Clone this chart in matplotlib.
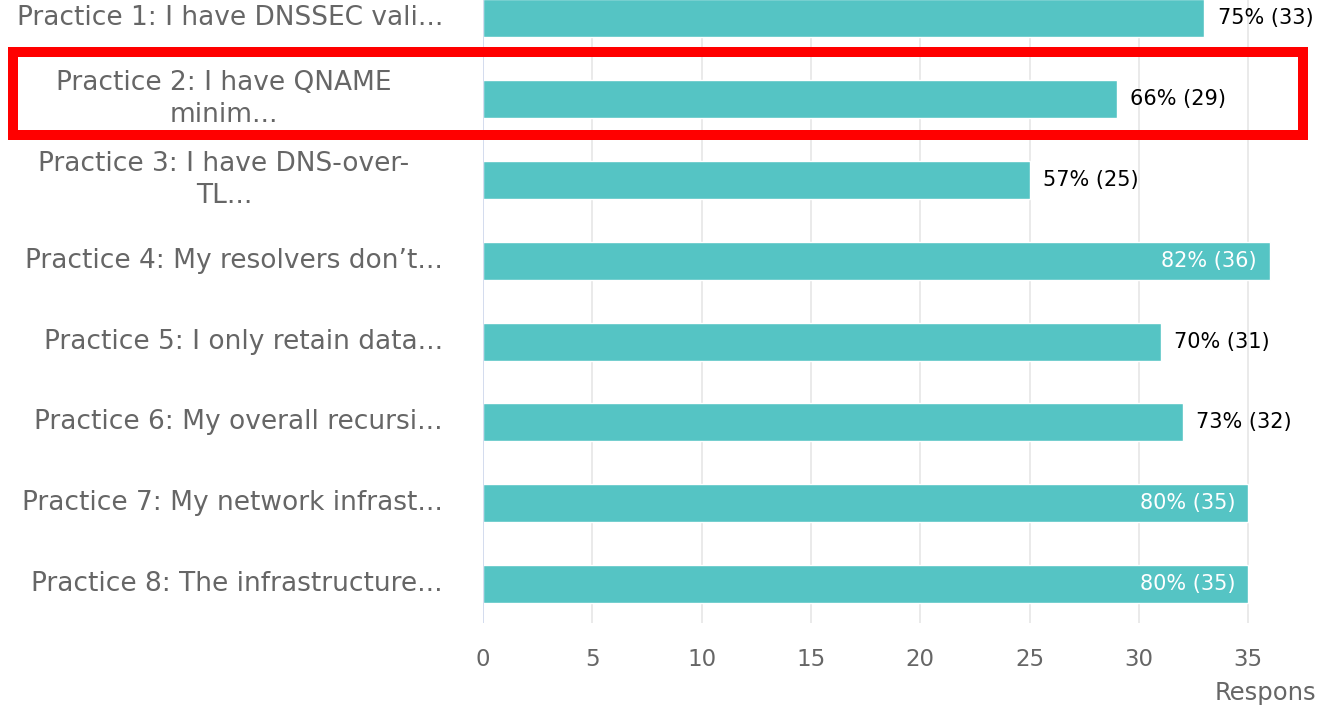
import matplotlib.pyplot as plt
from matplotlib.patches import Rectangle

# data
labels = [
    'Practice 1: I have DNSSEC vali...',
    'Practice 2: I have QNAME\nminim...',
    'Practice 3: I have DNS-over-\nTL...',
    'Practice 4: My resolvers don\u2019t...',
    'Practice 5: I only retain data...',
    'Practice 6: My overall recursi...',
    'Practice 7: My network infrast...',
    'Practice 8: The infrastructure...',
]
percents = [75, 66, 57, 82, 70, 73, 80, 80]
counts = [33, 29, 25, 36, 31, 32, 35, 35]
xticks = [0, 5, 10, 15, 20, 25, 30, 35]

W, H = 1317, 711
fig = plt.figure(figsize=(W / 100, H / 100), dpi=100)

# axes runs off the top and right edge like the cropped screenshot
left, right, top, bottom = 483, 1317, -19, 623
ax = fig.add_axes([left / W, 1 - bottom / H, (right - left) / W, (bottom - top) / H])
ax.set_xlim(0, 38.15)
ax.set_ylim(len(labels) - 0.52, -0.46)

ypos = list(range(len(labels)))
ax.barh(ypos, counts, height=0.47, color='#55c4c4', edgecolor='white', linewidth=1, zorder=3)

for spine in ax.spines.values():
    spine.set_visible(False)
ax.axvline(0, color='#ccd6eb', lw=1.2, zorder=4)
for t in xticks[1:]:
    ax.axvline(t, color='#e6e6e6', lw=1.2, zorder=1)

ax.set_xticks(xticks)
ax.set_xticklabels([str(t) for t in xticks], fontsize=16.5, color='#666666')
ax.tick_params(axis='x', length=0, pad=18)
ax.set_yticks([])

# category labels, wrapped ones centred like the original
for y, lab in zip(ypos, labels):
    if '\n' in lab:
        ax.text((224 - left) / (right - left), y, lab, transform=ax.get_yaxis_transform(),
                ha='center', va='center', multialignment='center', fontsize=19,
                color='#666666', linespacing=1.3)
    else:
        ax.text((443 - left) / (right - left), y, lab, transform=ax.get_yaxis_transform(),
                ha='right', va='center', fontsize=19, color='#666666')

# value labels
for y, c, p in zip(ypos, counts, percents):
    txt = f'{p}% ({c})'
    if c >= 35:
        ax.text(c - 0.6, y, txt, ha='right', va='center', fontsize=15, color='white', zorder=5)
    else:
        ax.text(c + 0.6, y, txt, ha='left', va='center', fontsize=15, color='black', zorder=5)

# axis title is cut off at the right edge in the reference too
fig.text(1215 / W, 1 - 693 / H, 'Responses', ha='left', va='center', fontsize=17.5, color='#666666')

# red highlight box around practice 2
fig.patches.append(Rectangle((13 / W, 1 - 135 / H), (1303 - 13) / W, (135 - 52) / H,
                             transform=fig.transFigure, fill=False, edgecolor='#ff0000',
                             linewidth=7.2, zorder=10))

fig.savefig('out.png', dpi=100)
